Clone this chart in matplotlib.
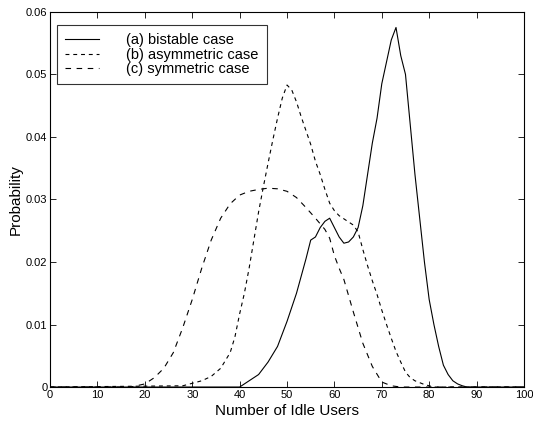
import numpy as np
import matplotlib
matplotlib.use("Agg")
import matplotlib.pyplot as plt

plt.rcParams['font.family'] = ['Liberation Sans', 'DejaVu Sans']

# (a) bistable case
idle_a = [0, 40, 42, 44, 46, 48, 50, 52, 54, 55, 56, 57, 58, 59, 60, 61, 62, 63,
          64, 65, 66, 67, 68, 69, 70, 71, 72, 73, 74, 75, 76, 77, 78, 79, 80,
          81, 82, 83, 84, 85, 86, 87, 88, 100]
prob_a = [0, 0, 0.0010, 0.0020, 0.0040, 0.0065, 0.0105, 0.0150, 0.0205, 0.0235,
          0.0240, 0.0255, 0.0265, 0.0270, 0.0255, 0.0240, 0.0230, 0.0232,
          0.0240, 0.0255, 0.0290, 0.0340, 0.0390, 0.0430, 0.0485, 0.0520,
          0.0555, 0.0575, 0.0530, 0.0500, 0.0420, 0.0340, 0.0270, 0.0200,
          0.0140, 0.0100, 0.0065, 0.0035, 0.0020, 0.0010, 0.0005, 0.0002, 0, 0]

# (b) asymmetric case
idle_b = [0, 28, 30, 32, 34, 36, 38, 39, 40, 41, 42, 43, 44, 45, 46, 47, 48, 49,
          50, 51, 52, 53, 54, 55, 56, 57, 58, 59, 60, 61, 62, 63, 64, 65, 66,
          67, 68, 69, 70, 71, 72, 73, 74, 75, 76, 77, 78, 79, 80, 81, 100]
prob_b = [0, 0.0002, 0.0006, 0.0010, 0.0017, 0.0030, 0.0055, 0.0080, 0.0117,
          0.0150, 0.0190, 0.0235, 0.0280, 0.0320, 0.0358, 0.0395, 0.0430,
          0.0462, 0.0483, 0.0475, 0.0456, 0.0432, 0.0410, 0.0388, 0.0361,
          0.0340, 0.0316, 0.0294, 0.0282, 0.0274, 0.0269, 0.0264, 0.0259,
          0.0248, 0.0220, 0.0194, 0.0170, 0.0148, 0.0123, 0.0100, 0.0078,
          0.0057, 0.0040, 0.0024, 0.0015, 0.0010, 0.0007, 0.0004, 0.0002, 0, 0]

# (c) symmetric case
idle_c = [0, 17, 20, 22, 24, 26, 28, 30, 32, 34, 36, 38, 40, 42, 44, 46, 48, 50,
          52, 54, 56, 58, 59, 60, 61, 62, 64, 66, 68, 70, 72, 74, 100]
prob_c = [0, 0, 0.0005, 0.0015, 0.0030, 0.0055, 0.0095, 0.0140, 0.0190, 0.0235,
          0.0270, 0.0293, 0.0307, 0.0313, 0.0316, 0.0318, 0.0317, 0.0313,
          0.0303, 0.0287, 0.0270, 0.0252, 0.0238, 0.0210, 0.0190, 0.0172,
          0.0120, 0.0070, 0.0033, 0.0008, 0.0002, 0, 0]

labels = ['(a) bistable case', '(b) asymmetric case', '(c) symmetric case']
xticks = np.arange(0, 101, 10)
yticks = [0, 0.01, 0.02, 0.03, 0.04, 0.05, 0.06]
ytick_labels = ['0', '0.01', '0.02', '0.03', '0.04', '0.05', '0.06']

fig = plt.figure(figsize=(5.33, 4.23), dpi=100)
ax = fig.add_axes([0.094, 0.085, 0.889, 0.887])

ax.plot(idle_a, prob_a, color='black', lw=0.8, label=labels[0])
ax.plot(idle_b, prob_b, color='black', lw=0.8, dashes=(3.5, 3.5), label=labels[1])
ax.plot(idle_c, prob_c, color='black', lw=0.8, dashes=(5, 5), label=labels[2])

ax.set_xlim(0, 100)
ax.set_ylim(0, 0.06)
ax.set_xticks(xticks)
ax.set_yticks(yticks)
ax.set_yticklabels(ytick_labels)
ax.tick_params(direction='in', top=True, right=True, length=4, width=0.6,
               labelsize=8, pad=2)
for sp in ax.spines.values():
    sp.set_linewidth(0.8)

ax.set_xlabel('Number of Idle Users', fontsize=11, labelpad=3)
ax.set_ylabel('Probability', fontsize=11, labelpad=2)

leg = ax.legend(loc='upper left', bbox_to_anchor=(0.015, 0.965), fontsize=10.5,
                frameon=True, fancybox=False, handlelength=2.3, handletextpad=1.9,
                borderpad=0.55, labelspacing=0.05, borderaxespad=0)
leg.get_frame().set_edgecolor('black')
leg.get_frame().set_linewidth(0.8)

fig.savefig('out.png', dpi=100)
